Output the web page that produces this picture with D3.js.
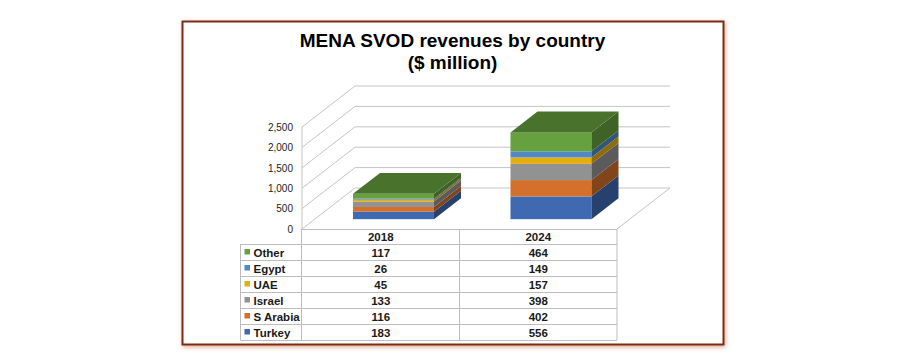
<!DOCTYPE html>
<html>
<head>
<meta charset="utf-8">
<script src="https://cdn.jsdelivr.net/npm/d3@7"></script>
<style>
  html, body { margin: 0; background: #fff; }
  svg { display: block; font-family: "Liberation Sans", Arial, sans-serif; }
  .tbl { font-size: 11.5px; font-weight: bold; fill: #1a1a1a; }
</style>
</head>
<body>
<div id="chart"></div>
<script>
const years = ["2018", "2024"];
const seriesNames = ["Turkey", "S Arabia", "Israel", "UAE", "Egypt", "Other"];
const turkey = [183, 556];
const sArabia = [116, 402];
const israel = [133, 398];
const uae = [45, 157];
const egypt = [26, 149];
const other = [117, 464];
const tickValues = [0, 500, 1000, 1500, 2000, 2500];
const titleLines = ["MENA SVOD revenues by country", "($ million)"];
const colors = ["#3f69b1", "#d2702c", "#929292", "#e6ad0e", "#4f8ac4", "#66a03f"];

const width = 900, height = 357;
const seriesValues = [turkey, sArabia, israel, uae, egypt, other];

const svg = d3.select("#chart").append("svg")
  .attr("width", width)
  .attr("height", height);

// frame with soft shadow
const defs = svg.append("defs");
const f = defs.append("filter").attr("id", "glow")
  .attr("x", "-3%").attr("y", "-3%").attr("width", "106%").attr("height", "106%");
f.append("feDropShadow").attr("dx", 1).attr("dy", 1.5).attr("stdDeviation", 2)
  .attr("flood-color", "#c8683a").attr("flood-opacity", 0.6);

svg.append("rect")
  .attr("x", 182.5).attr("y", 21.5)
  .attr("width", 541).attr("height", 323)
  .attr("fill", "#fff")
  .attr("stroke", "#7c2a12")
  .attr("stroke-width", 2)
  .attr("filter", "url(#glow)");

// title
svg.append("g").selectAll("text")
  .data(titleLines)
  .join("text")
    .attr("x", 452.5)
    .attr("y", (d, i) => 47 + i * 22)
    .attr("text-anchor", "middle")
    .style("font-size", "19px")
    .style("font-weight", "bold")
    .attr("fill", "#000")
    .text(d => d);

// scales, plus the oblique projection for depth
const frontLeft = 302, frontRight = 617, floorY = 229;
const depthX = 53, depthY = 41;

const x = d3.scaleBand()
  .domain(years)
  .range([frontLeft, frontRight])
  .paddingInner(0.486)
  .paddingOuter(0.243);

const y = d3.scaleLinear()
  .domain([0, 2500])
  .range([floorY, 127]);

const project = (px, py, z) => [px + z * depthX, py - z * depthY];

// walls and gridlines
const wallColor = "#c4c4c4";
const line = d3.line();
const grid = svg.append("g").attr("fill", "none").attr("stroke", wallColor).attr("stroke-width", 1);

tickValues.forEach(t => {
  grid.append("path").attr("d", line([
    project(frontLeft, y(t), 0),
    project(frontLeft, y(t), 1),
    project(frontRight, y(t), 1)
  ]));
});
grid.append("path").attr("d", line([
  project(frontLeft, y(0), 0),
  project(frontLeft, y(2500), 0)
]));
grid.append("path").attr("d", line([
  project(frontRight, y(0), 0),
  project(frontRight, y(0), 1)
]));

// y axis labels
const yAxis = d3.axisLeft(y)
  .tickValues(tickValues)
  .tickSize(0)
  .tickPadding(9)
  .tickFormat(d3.format(","));

const yG = svg.append("g")
  .attr("transform", `translate(${frontLeft},0)`)
  .call(yAxis);
yG.select(".domain").remove();
yG.selectAll("text")
  .style("font-size", "10px")
  .style("font-family", "'Liberation Sans', Arial, sans-serif")
  .attr("fill", "#222");

// stacked 3D bars
const rows = years.map((yr, i) => {
  const r = { year: yr };
  seriesNames.forEach((s, j) => { r[s] = seriesValues[j][i]; });
  return r;
});
const stacked = d3.stack().keys(seriesNames)(rows);

const zFront = 0.24, zBack = 0.75;
const bars = svg.append("g");

const poly = pts => "M" + pts.map(p => p.join(",")).join("L") + "Z";

stacked.forEach((layer, si) => {
  const c = d3.color(colors[si]);
  const sideC = d3.rgb(c.r * 0.62, c.g * 0.62, c.b * 0.62);
  const topC = d3.rgb(c.r * 0.72, c.g * 0.72, c.b * 0.72);

  layer.forEach(d => {
    const x0 = x(d.data.year), x1 = x0 + x.bandwidth();
    const yb = y(d[0]), yt = y(d[1]);

    // front face
    const a = project(x0, yt, zFront), b = project(x1, yb, zFront);
    bars.append("rect")
      .attr("x", a[0]).attr("y", a[1])
      .attr("width", b[0] - a[0]).attr("height", b[1] - a[1])
      .attr("fill", colors[si]);

    // side face
    bars.append("path")
      .attr("d", poly([
        project(x1, yt, zFront), project(x1, yt, zBack),
        project(x1, yb, zBack), project(x1, yb, zFront)
      ]))
      .attr("fill", sideC);

    // only the top series shows its lid
    if (si === stacked.length - 1) {
      bars.append("path")
        .attr("d", poly([
          project(x0, yt, zFront), project(x1, yt, zFront),
          project(x1, yt, zBack), project(x0, yt, zBack)
        ]))
        .attr("fill", topC);
    }
  });
});

// data table
const tableLeft = 240.5, rowTop = 244, rowH = 16;
const legendRows = seriesNames.slice().reverse();
const tableBottom = rowTop + rowH * legendRows.length;

const tbl = svg.append("g");
const tblLine = (x1, y1, x2, y2) => tbl.append("line")
  .attr("x1", x1).attr("y1", y1).attr("x2", x2).attr("y2", y2)
  .attr("stroke", "#bdbdbd").attr("stroke-width", 1);

tblLine(frontLeft - 0.5, floorY + 0.5, frontRight, floorY + 0.5);
d3.range(legendRows.length + 1).forEach(i => {
  tblLine(tableLeft, rowTop + i * rowH + 0.5, frontRight, rowTop + i * rowH + 0.5);
});
tblLine(tableLeft, rowTop, tableLeft, tableBottom);
[frontLeft - 0.5, (frontLeft + frontRight) / 2, frontRight].forEach(v => {
  tblLine(v, floorY, v, tableBottom);
});

const colCenter = yr => x(yr) + x.bandwidth() / 2;

tbl.selectAll("text.head")
  .data(years)
  .join("text")
    .attr("class", "tbl head")
    .attr("x", colCenter)
    .attr("y", 241)
    .attr("text-anchor", "middle")
    .text(d => d);

legendRows.forEach((name, i) => {
  const si = seriesNames.indexOf(name);
  const baseline = rowTop + i * rowH + 12.5;

  tbl.append("rect")
    .attr("x", 244.5).attr("y", baseline - 7.5)
    .attr("width", 5.5).attr("height", 5.5)
    .attr("fill", colors[si]);

  tbl.append("text")
    .attr("class", "tbl")
    .attr("x", 253.5)
    .attr("y", baseline)
    .text(name);

  years.forEach((yr, j) => {
    tbl.append("text")
      .attr("class", "tbl")
      .attr("x", colCenter(yr))
      .attr("y", baseline)
      .attr("text-anchor", "middle")
      .text(seriesValues[si][j]);
  });
});
</script>
</body>
</html>
